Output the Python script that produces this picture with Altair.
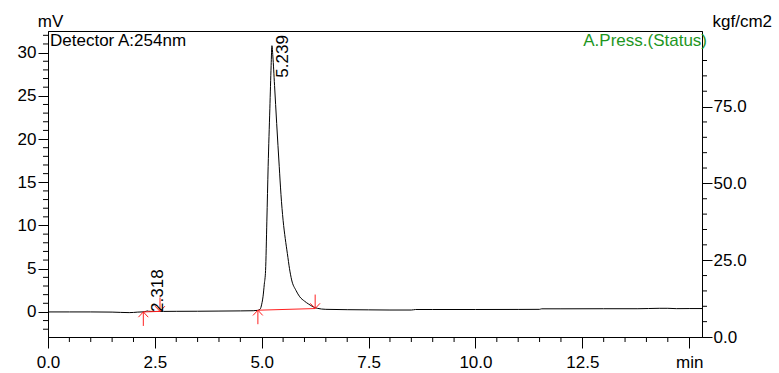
import altair as alt
import pandas as pd

# ---- chromatogram trace (min, mV) ----
time_min = [0.0, 0.5, 1.0, 1.5, 1.9, 2.0, 2.1, 2.2, 2.25, 2.3,
            2.318, 2.35, 2.45, 2.6, 2.7, 3.0, 3.5, 4.0, 4.5, 4.8,
            4.9, 4.96, 5.0, 5.03, 5.06, 5.09, 5.12, 5.15, 5.19, 5.22,
            5.239, 5.26, 5.3, 5.35, 5.41, 5.45, 5.5, 5.55, 5.6, 5.65,
            5.7, 5.8, 5.89, 6.0, 6.1, 6.2, 6.3, 6.5, 7.0, 7.5,
            8.0, 8.5, 8.6, 9.0, 10.0, 11.0, 11.5, 11.55, 12.0, 13.0,
            13.8, 14.3, 14.5, 14.7, 15.0, 15.3]
signal_mv = [0.0, 0.0, 0.0, -0.02, -0.08, -0.06, -0.02, 0.0, 0.02, 0.08,
             0.12, 0.08, 0.05, 0.06, 0.06, 0.07, 0.08, 0.1, 0.12, 0.14,
             0.18, 0.3, 0.9, 1.75, 3.2, 4.8, 10.5, 16.8, 23.5, 28.5,
             30.8, 29.6, 26.2, 21.8, 16.8, 13.6, 10.6, 8.5, 6.75, 5.0,
             3.7, 2.5, 1.75, 1.25, 0.9, 0.6, 0.42, 0.3, 0.26, 0.24,
             0.22, 0.22, 0.28, 0.28, 0.28, 0.29, 0.3, 0.36, 0.36, 0.37,
             0.37, 0.42, 0.42, 0.38, 0.39, 0.39]

# ---- integrated peaks ----
peak_rt = [2.318, 5.239]
peak_top_mv = [0.12, 30.8]
peak_start_t = [2.23, 4.91]
peak_start_mv = [0.0, 0.2]
peak_end_t = [2.62, 6.25]
peak_end_mv = [0.06, 0.39]

# ---- axis ticks ----
x_major = [0.0, 2.5, 5.0, 7.5, 10.0, 12.5, 15.0]
x_minor = [0.5, 1.0, 1.5, 2.0, 3.0, 3.5, 4.0, 4.5, 5.5, 6.0, 6.5, 7.0,
           8.0, 8.5, 9.0, 9.5, 10.5, 11.0, 11.5, 12.0, 13.0, 13.5, 14.0, 14.5]
y_major = [0, 5, 10, 15, 20, 25, 30]
y_minor = [-2, -1, 1, 2, 3, 4, 6, 7, 8, 9, 11, 12, 13, 14, 16, 17, 18, 19,
           21, 22, 23, 24, 26, 27, 28, 29, 31, 32]
p_major = [0, 25, 50, 75]
p_minor = [5, 10, 15, 20, 30, 35, 40, 45, 55, 60, 65, 70, 80, 85, 90]
press_domain = [0, 99.6]

FONT = "Liberation Sans"
RED = "#ff2020"
GREEN = "#1e961e"
W, H = 654, 306

trace = pd.DataFrame({"t": time_min, "mv": signal_mv})
peaks = pd.DataFrame({"rt": peak_rt, "top": peak_top_mv,
                      "t0": peak_start_t, "v0": peak_start_mv,
                      "t1": peak_end_t, "v1": peak_end_mv,
                      "label": [f"{v:.3f}" for v in peak_rt]})

x_scale = alt.Scale(domain=[0, 15.3], nice=False, zero=False)
y_scale = alt.Scale(domain=[-2.9, 32.5], nice=False, zero=False)
p_scale = alt.Scale(domain=press_domain, nice=False, zero=True)

x_axis = alt.Axis(
    values=x_major, title=None, grid=False, tickSize=11,
    labelExpr="datum.value === 15 ? 'min' : format(datum.value, '.1f')",
    labelPadding=6, labelOverlap=False, labelFlush=False,
)
y_axis = alt.Axis(
    values=y_major,
    title="mV", titleAngle=0, titleAlign="center", titleBaseline="alphabetic",
    titleX=2, titleY=-5,
    grid=False, tickSize=10, format="d",
    labelPadding=2, labelOverlap=False, labelFlush=False,
)
p_axis = alt.Axis(
    orient="right", values=p_major,
    title="kgf/cm2", titleAngle=0, titleAlign="left", titleBaseline="alphabetic",
    titleX=10, titleY=-5,
    grid=False, tickSize=10, format=".1f",
    labelPadding=1, labelOverlap=False, labelFlush=False,
)


def X(field):
    return alt.X(field, scale=x_scale, axis=x_axis)


def Y(field):
    return alt.Y(field, scale=y_scale, axis=y_axis)


line = alt.Chart(trace).mark_line(color="black", strokeWidth=1, interpolate="monotone").encode(
    x=X("t:Q"), y=Y("mv:Q"),
)

pk = alt.Chart(peaks)
baseline = pk.mark_rule(color=RED, strokeWidth=1).encode(
    x=X("t0:Q"), y=Y("v0:Q"), x2="t1:Q", y2="v1:Q"
)
UP = "M0,0L0,2M-0.7,0.75L0,0L0.7,0.75"
DOWN = "M0,0L0,-2M-0.7,-0.75L0,0L0.7,-0.75"
up_arrows = pk.mark_point(shape=UP, size=196, filled=False, stroke=RED, strokeWidth=1, opacity=1).encode(
    x=X("t0:Q"), y=Y("v0:Q")
)
down_arrows = pk.mark_point(shape=DOWN, size=196, filled=False, stroke=RED, strokeWidth=1, opacity=1).encode(
    x=X("t1:Q"), y=Y("v1:Q")
)

lab_big = alt.Chart(peaks.iloc[[1]]).mark_text(
    angle=270, align="left", baseline="alphabetic", dx=-32, dy=16,
    font=FONT, fontSize=17, color="black"
).encode(x=X("rt:Q"), y=Y("top:Q"), text="label:N")
lab_small = alt.Chart(peaks.iloc[[0]]).mark_text(
    angle=270, align="left", baseline="alphabetic", dx=-1, dy=16,
    font=FONT, fontSize=17, color="black"
).encode(x=X("rt:Q"), y=Y("top:Q"), text="label:N")

# minor ticks
x_minor_ticks = alt.Chart(pd.DataFrame({"t": x_minor})).mark_rule(color="black", strokeWidth=1).encode(
    x=X("t:Q"), y=alt.value(H), y2=alt.value(H + 5)
)
y_minor_ticks = alt.Chart(pd.DataFrame({"mv": y_minor})).mark_rule(color="black", strokeWidth=1).encode(
    y=Y("mv:Q"), x=alt.value(0), x2=alt.value(-5)
)

det_text = alt.Chart(pd.DataFrame({"s": ["Detector A:254nm"]})).mark_text(
    align="left", baseline="alphabetic", font=FONT, fontSize=17, color="black"
).encode(x=alt.value(2), y=alt.value(15), text="s:N")
press_text = alt.Chart(pd.DataFrame({"s": ["A.Press.(Status)"]})).mark_text(
    align="right", baseline="alphabetic", font=FONT, fontSize=17, color=GREEN
).encode(x=alt.value(659), y=alt.value(15), text="s:N")

main = alt.layer(line, baseline, up_arrows, down_arrows, lab_big, lab_small,
                 x_minor_ticks, y_minor_ticks, det_text, press_text)

press_layer = alt.Chart(pd.DataFrame({"p": p_minor})).mark_tick(
    color="black", orient="horizontal", size=5, thickness=1, opacity=1
).encode(
    y=alt.Y("p:Q", scale=p_scale, axis=p_axis), x=alt.value(W + 2.5)
)

chart = alt.layer(main, press_layer).resolve_scale(y="independent").properties(
    width=W, height=H,
    padding={"left": 48, "top": 31, "right": 77, "bottom": 36},
    autosize=alt.AutoSizeParams(type="none"),
    background="white",
).configure_view(stroke="black", strokeWidth=1).configure_axis(
    labelFont=FONT, labelFontSize=17, labelColor="black",
    titleFont=FONT, titleFontSize=17, titleColor="black", titleFontWeight="normal",
    tickColor="black", domainColor="black", domainWidth=1, tickWidth=1,
)

chart.save("out.html", embed_options={"renderer": "svg", "actions": False})
